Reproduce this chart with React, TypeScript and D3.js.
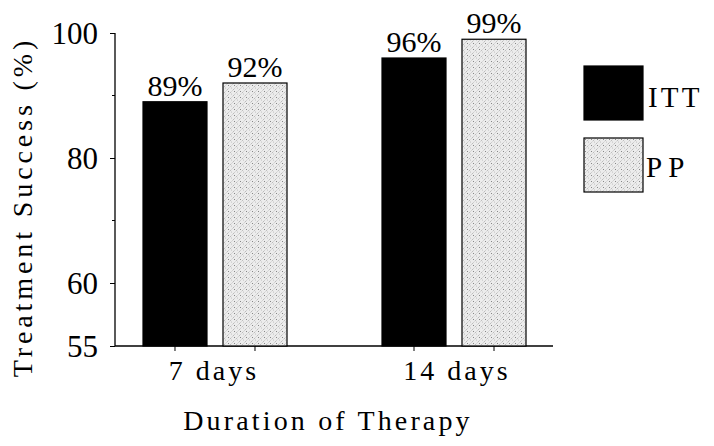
import * as d3 from 'd3';
import { useEffect, useRef } from 'react';

const durations = ['7 days', '14 days'];
const series = ['ITT', 'PP'];
const ittValues = [89, 96];
const ppValues = [92, 99];
const yTicks = [55, 60, 80, 100];
const yMinorTicks = [70, 90];

export default function App() {
  const ref = useRef<SVGSVGElement | null>(null);

  useEffect(() => {
    const svg = d3.select(ref.current);
    svg.selectAll('*').remove();
    const font = "'Liberation Serif', Tinos, 'Times New Roman', serif";

    const defs = svg.append('defs');
    const pat = defs.append('pattern')
      .attr('id', 'stipple').attr('patternUnits', 'userSpaceOnUse')
      .attr('width', 6).attr('height', 6);
    pat.append('rect').attr('width', 6).attr('height', 6).attr('fill', '#ececec');
    pat.append('path').attr('d', 'M0,6 L6,0 M-1,1 L1,-1 M5,7 L7,5')
      .attr('stroke', '#7a7a7a').attr('stroke-width', 0.6).attr('stroke-dasharray', '1,1.2');
    pat.append('circle').attr('cx', 1.5).attr('cy', 1.5).attr('r', 0.5).attr('fill', '#666');
    pat.append('circle').attr('cx', 4.5).attr('cy', 4).attr('r', 0.4).attr('fill', '#888');

    // broken axis: 60-100 linear, 55 sits at the baseline
    const y = d3.scaleLinear().domain([55, 60, 100]).range([346, 283, 33]);
    const x0 = d3.scaleBand().domain(durations).range([119.1, 549.9]).paddingInner(0.3975).paddingOuter(0.1);
    const x1 = d3.scaleBand().domain(series).range([0, x0.bandwidth()]).paddingInner(0.2);

    const g = svg.append('g').style('font-family', font);

    const yAxis = g.append('g').attr('transform', 'translate(115,0)')
      .call(d3.axisLeft(y).tickValues(yTicks).tickSize(5).tickFormat(d3.format('d')));
    yAxis.attr('font-family', null);
    yAxis.select('.domain').attr('stroke', '#000').attr('stroke-width', 1.3).attr('d', `M0,${y(100)}V${y(55)}`);
    yAxis.selectAll('text').style('font-family', font).attr('font-size', 31).attr('fill', '#000').attr('x', -17).attr('dy', '0.34em');
    g.append('g').attr('transform', 'translate(115,0)')
      .selectAll('line').data(yMinorTicks).join('line')
      .attr('x1', -3).attr('x2', 0).attr('y1', (d) => y(d)).attr('y2', (d) => y(d)).attr('stroke', '#000');

    g.append('line').attr('x1', 115).attr('x2', 553).attr('y1', y(55)).attr('y2', y(55))
      .attr('stroke', '#000').attr('stroke-width', 1.3);

    const rows = durations.map((d, i) => ({ d, vals: [ittValues[i], ppValues[i]] }));
    const grp = g.selectAll('g.grp').data(rows).join('g').attr('class', 'grp')
      .attr('transform', (r) => `translate(${x0(r.d)},0)`);

    const cells = grp.selectAll('g.cell').data((r) => r.vals.map((v, k) => ({ s: series[k], v })))
      .join('g').attr('class', 'cell');
    cells.append('rect')
      .attr('x', (c) => x1(c.s)!)
      .attr('y', (c) => y(c.v))
      .attr('width', x1.bandwidth())
      .attr('height', (c) => y(55) - y(c.v))
      .attr('fill', (c) => (c.s === 'ITT' ? '#000' : 'url(#stipple)'))
      .attr('stroke', '#000').attr('stroke-width', 1.2);
    cells.append('line')
      .attr('x1', (c) => x1(c.s)! + x1.bandwidth() / 2).attr('x2', (c) => x1(c.s)! + x1.bandwidth() / 2)
      .attr('y1', y(55)).attr('y2', y(55) + 5).attr('stroke', '#000');
    cells.append('text')
      .attr('x', (c) => x1(c.s)! + x1.bandwidth() / 2)
      .attr('y', (c) => y(c.v) - 6)
      .attr('text-anchor', 'middle').attr('font-size', 30)
      .text((c) => `${c.v}%`);

    grp.append('text')
      .attr('x', (_, i) => x0.bandwidth() / 2 + (i === 0 ? -1 : 3)).attr('y', 380)
      .attr('text-anchor', 'middle').attr('font-size', 28)
      .attr('letter-spacing', 3)
      .text((r) => r.d);

    g.append('text').attr('x', 328).attr('y', 430).attr('text-anchor', 'middle')
      .attr('font-size', 28).attr('letter-spacing', 3.15)
      .text('Duration of Therapy');

    g.append('text').attr('transform', 'translate(32,207) rotate(-90)').attr('text-anchor', 'middle')
      .attr('font-size', 28).attr('letter-spacing', 3.9)
      .text('Treatment Success (%)');

    const legend = g.append('g').attr('transform', 'translate(584,66)');
    const li = legend.selectAll('g').data(series).join('g').attr('transform', (_, i) => `translate(0,${i * 72})`);
    li.append('rect').attr('width', 59).attr('height', 54)
      .attr('fill', (s) => (s === 'ITT' ? '#000' : 'url(#stipple)')).attr('stroke', '#000').attr('stroke-width', 1.2);
    li.append('text').attr('x', (_, i) => (i === 0 ? 64 : 62)).attr('y', (_, i) => (i === 0 ? 41 : 39)).attr('font-size', 29)
      .attr('letter-spacing', (_, i) => (i === 0 ? 3.2 : 6)).text((s) => s);
  }, []);

  return <svg ref={ref} width={714} height={446} style={{ position: 'absolute', left: 0, top: 0, background: '#fff' }} />;
}
